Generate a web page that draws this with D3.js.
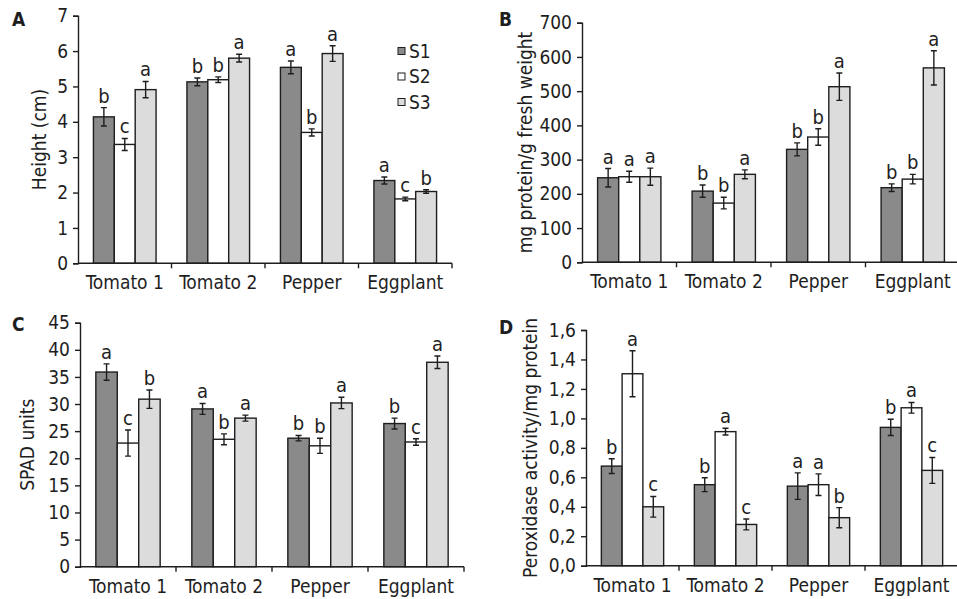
<!DOCTYPE html>
<html lang="en">
  <head>
    <meta charset="UTF-8" />
    <title>Seedling traits by substrate</title>
    <script src="https://d3js.org/d3.v7.min.js"></script>
    <style>
      body { margin: 0; background: #fff; }
      svg text { font-family: "DejaVu Sans Condensed", "DejaVu Sans", sans-serif; fill: #1e1e1e; }
    </style>
  </head>
  <body>
    <div id="chart-container"></div>

    <script>
      // Data
      const categories = ["Tomato 1", "Tomato 2", "Pepper", "Eggplant"];
      const series = ["S1", "S2", "S3"];

      // A - height (cm)
      const heightMean = [[4.14, 3.36, 4.91], [5.13, 5.19, 5.80], [5.54, 3.70, 5.93], [2.34, 1.82, 2.03]];
      const heightErr = [[0.26, 0.17, 0.23], [0.11, 0.08, 0.11], [0.18, 0.10, 0.22], [0.10, 0.05, 0.05]];
      const heightLetters = [["b", "c", "a"], ["b", "b", "a"], ["a", "b", "a"], ["a", "c", "b"]];
      const heightTicks = [0, 1, 2, 3, 4, 5, 6, 7];

      // B - protein
      const proteinMean = [[247, 250, 250], [208, 173, 257], [330, 366, 513], [218, 243, 568]];
      const proteinErr = [[27, 16, 25], [18, 17, 13], [19, 24, 40], [11, 14, 50]];
      const proteinLetters = [["a", "a", "a"], ["b", "b", "a"], ["b", "b", "a"], ["b", "b", "a"]];
      const proteinTicks = [0, 100, 200, 300, 400, 500, 600, 700];

      // C - SPAD
      const spadMean = [[35.9, 22.8, 30.9], [29.1, 23.5, 27.4], [23.7, 22.3, 30.2], [26.4, 23.0, 37.7]];
      const spadErr = [[1.5, 2.4, 1.7], [1.0, 1.0, 0.55], [0.5, 1.4, 1.05], [1.0, 0.6, 1.15]];
      const spadLetters = [["a", "c", "b"], ["a", "b", "a"], ["b", "b", "a"], ["b", "c", "a"]];
      const spadTicks = [0, 5, 10, 15, 20, 25, 30, 35, 40, 45];

      // D - peroxidase
      const peroxMean = [[0.676, 1.303, 0.40], [0.55, 0.91, 0.28], [0.54, 0.55, 0.326], [0.939, 1.072, 0.647]];
      const peroxErr = [[0.05, 0.156, 0.07], [0.047, 0.023, 0.037], [0.09, 0.073, 0.068], [0.055, 0.036, 0.088]];
      const peroxLetters = [["b", "a", "c"], ["b", "a", "c"], ["a", "a", "b"], ["b", "a", "c"]];
      const peroxTicks = [0, 0.2, 0.4, 0.6, 0.8, 1.0, 1.2, 1.4, 1.6];

      const fills = ["#8a8a8a", "#ffffff", "#dcdcdc"];

      const svg = d3
        .select("#chart-container")
        .append("svg")
        .attr("width", 957)
        .attr("height", 599);

      // Panel layout (pixel boxes)
      const panels = [
        { tag: "A", title: "Height (cm)", mean: heightMean, err: heightErr, letters: heightLetters, ticks: heightTicks,
          fmt: d3.format("d"), x0: 78, x1: 452, top: 15.7, bottom: 263.3, titleX: 39, tagX: 12, tagY: 26, legend: true },
        { tag: "B", title: "mg protein/g fresh weight", mean: proteinMean, err: proteinErr, letters: proteinLetters, ticks: proteinTicks,
          fmt: d3.format("d"), x0: 582, x1: 960, top: 22.7, bottom: 262.3, titleX: 525, tagX: 499, tagY: 26 },
        { tag: "C", title: "SPAD units", mean: spadMean, err: spadErr, letters: spadLetters, ticks: spadTicks,
          fmt: d3.format("d"), x0: 80, x1: 464, top: 322.7, bottom: 566.7, titleX: 27, tagX: 12, tagY: 331 },
        { tag: "D", title: "Peroxidase activity/mg protein", mean: peroxMean, err: peroxErr, letters: peroxLetters, ticks: peroxTicks,
          fmt: (d) => d3.format(".1f")(d).replace(".", ","), x0: 586, x1: 958, top: 330, bottom: 565.7, titleX: 530, tagX: 499, tagY: 334 }
      ];

      panels.forEach((p) => {
        const g = svg.append("g");

        const x = d3.scaleBand().domain(categories).range([p.x0, p.x1]).paddingInner(0.33).paddingOuter(0.165);
        const xs = d3.scaleBand().domain(series).range([0, x.bandwidth()]);
        const y = d3.scaleLinear().domain([0, d3.max(p.ticks)]).range([p.bottom, p.top]);

        // bars
        categories.forEach((c, i) => {
          series.forEach((s, j) => {
            const bx = x(c) + xs(s);
            const v = p.mean[i][j];
            const e = p.err[i][j];
            g.append("rect")
              .attr("x", bx)
              .attr("y", y(v))
              .attr("width", xs.bandwidth())
              .attr("height", y(0) - y(v))
              .attr("fill", fills[j])
              .attr("stroke", "#1e1e1e")
              .attr("stroke-width", 1.4);

            // error bar
            const cx = bx + xs.bandwidth() / 2;
            g.append("path")
              .attr("d", `M${cx},${y(v + e)}V${y(v - e)}M${cx - 3},${y(v + e)}h6M${cx - 3},${y(v - e)}h6`)
              .attr("stroke", "#1e1e1e")
              .attr("stroke-width", 1.4)
              .attr("fill", "none");

            // significance letter
            g.append("text")
              .attr("x", cx)
              .attr("y", y(v + e) - 5)
              .attr("text-anchor", "middle")
              .style("font-size", "20px")
              .text(p.letters[i][j]);
          });
        });

        // y axis
        const yAxis = g.append("g")
          .attr("transform", `translate(${p.x0},0)`)
          .call(d3.axisLeft(y).tickValues(p.ticks).tickFormat(p.fmt).tickSize(5).tickPadding(5));
        yAxis.selectAll("text").style("font-size", "19px");

        // x axis: line with ticks at group boundaries
        const step = x.step();
        const bounds = d3.range(1, categories.length + 1).map((k) => p.x0 + k * step);
        const xAxis = g.append("g").attr("transform", `translate(0,${p.bottom})`);
        xAxis.append("line").attr("x1", p.x0).attr("x2", p.x1).attr("stroke", "#1e1e1e").attr("stroke-width", 1.4);
        xAxis.selectAll(".b").data(bounds).enter().append("line")
          .attr("x1", (d) => d).attr("x2", (d) => d).attr("y1", 0).attr("y2", 5)
          .attr("stroke", "#1e1e1e").attr("stroke-width", 1.4);
        xAxis.selectAll(".cat").data(categories).enter().append("text")
          .attr("x", (d) => x(d) + x.bandwidth() / 2)
          .attr("y", 26)
          .attr("text-anchor", "middle")
          .style("font-size", "19px")
          .text((d) => d);

        g.selectAll(".domain, .tick line").attr("stroke", "#1e1e1e").attr("stroke-width", 1.4);

        // axis title
        g.append("text")
          .attr("transform", `translate(${p.titleX},${(p.top + p.bottom) / 2}) rotate(-90)`)
          .attr("text-anchor", "middle")
          .attr("dy", "0.35em")
          .style("font-size", "19px")
          .text(p.title);

        // panel tag
        g.append("text")
          .attr("x", p.tagX)
          .attr("y", p.tagY)
          .style("font-size", "19px")
          .style("font-weight", "bold")
          .text(p.tag);

        // legend
        if (p.legend) {
          series.forEach((s, j) => {
            const ly = 51 + j * 25.5;
            g.append("rect").attr("x", 398).attr("y", ly - 3.5).attr("width", 7).attr("height", 7)
              .attr("fill", fills[j]).attr("stroke", "#1e1e1e").attr("stroke-width", 1);
            g.append("text").attr("x", 409).attr("y", ly).attr("dy", "0.36em")
              .style("font-size", "19px").text(s);
          });
        }
      });
    </script>
  </body>
</html>
